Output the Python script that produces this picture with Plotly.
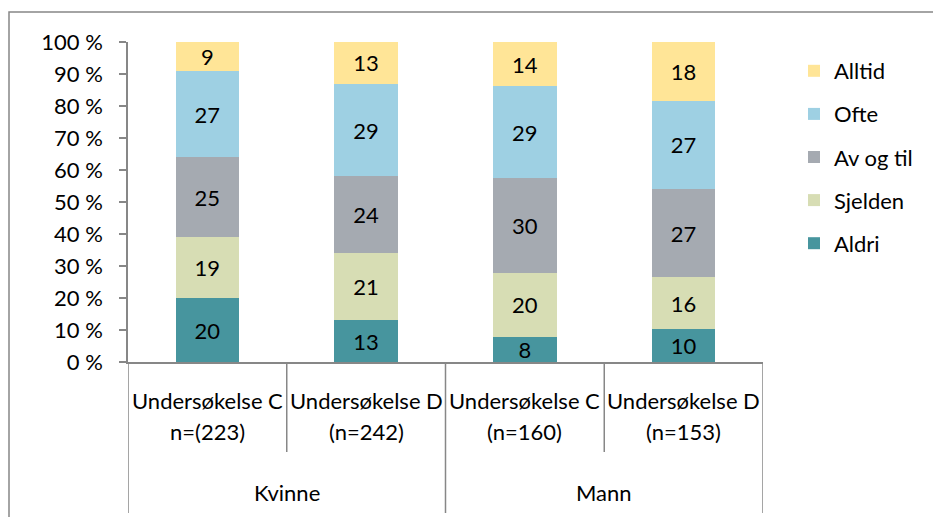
import plotly.graph_objects as go

# ---- data ----
categories = ["Undersøkelse C<br>n=(223)", "Undersøkelse D<br>(n=242)",
              "Undersøkelse C<br>(n=160)", "Undersøkelse D<br>(n=153)"]
groups = ["Kvinne", "Mann"]
series_names = ["Aldri", "Sjelden", "Av og til", "Ofte", "Alltid"]
aldri = [20, 13, 8, 10]
sjelden = [19, 21, 20, 16]
av_og_til = [25, 24, 30, 27]
ofte = [27, 29, 29, 27]
alltid = [9, 13, 14, 18]
y_ticks = [0, 10, 20, 30, 40, 50, 60, 70, 80, 90, 100]

colors = ["#47959E", "#D7DDB4", "#A5AAB1", "#9ED0E3", "#FFE597"]
series_values = [aldri, sjelden, av_og_til, ofte, alltid]

FONT = "Lato"
FS = 22
xpos = list(range(len(categories)))

fig = go.Figure()
for k, (name, vals, col) in enumerate(zip(series_names, series_values, colors)):
    fig.add_trace(go.Bar(
        x=xpos, y=vals, name=name, legendgroup=name,
        legendrank=len(series_names) - k,
        marker=dict(color=col, line=dict(width=0)),
        width=0.4,
        text=[str(v) for v in vals],
        textposition="inside", insidetextanchor="middle",
        textangle=0, constraintext="none",
        textfont=dict(family=FONT, size=FS, color="black"),
        hoverinfo="skip",
    ))

L, R, T, B = 128, 170, 42, 155
W, H = 933, 517
pw, ph = W - L - R, H - T - B

def py(pix):
    return (H - B - pix) / ph

def px(pix):
    return (pix - L) / pw

shapes = []
# outer frame
shapes.append(dict(type="rect", xref="paper", yref="paper",
                   x0=px(9), x1=px(960), y0=py(12), y1=py(540),
                   line=dict(color="#878787", width=1.5), fillcolor="rgba(0,0,0,0)", layer="below"))
# dividers
for xv, depth in [(-0.5, 513), (0.5, 452), (1.5, 513), (2.5, 452), (3.5, 513)]:
    shapes.append(dict(type="line", xref="x", yref="paper", x0=xv, x1=xv,
                       y0=0, y1=py(depth), line=dict(color="#878787", width=1.5)))

annotations = []
for i, c in enumerate(categories):
    l1, l2 = c.split("<br>")
    annotations.append(dict(x=i, y=py(400), xref="x", yref="paper", text=l1, showarrow=False,
                            font=dict(family=FONT, size=FS, color="black"), yanchor="middle"))
    annotations.append(dict(x=i, y=py(431), xref="x", yref="paper", text=l2, showarrow=False,
                            font=dict(family=FONT, size=FS, color="black"), yanchor="middle"))
for gi, g in enumerate(groups):
    annotations.append(dict(x=0.5 + 2 * gi, y=py(492), xref="x", yref="paper", text=g, showarrow=False,
                            font=dict(family=FONT, size=FS, color="black"), yanchor="middle"))

fig.update_layout(
    width=W, height=H,
    margin=dict(l=L, r=R, t=T, b=B, pad=0),
    barmode="stack", barnorm="percent",
    plot_bgcolor="white", paper_bgcolor="white",
    font=dict(family=FONT, size=FS, color="black"),
    showlegend=True,
    legend=dict(x=px(794), y=py(50), xanchor="left", yanchor="top",
                traceorder="grouped", tracegroupgap=11.5,
                font=dict(family=FONT, size=FS, color="black"),
                bgcolor="rgba(0,0,0,0)"),
    xaxis=dict(range=[-0.5, 3.5], showticklabels=False, ticks="",
               showline=True, linecolor="#878787", linewidth=1.5,
               showgrid=False, zeroline=False, fixedrange=True),
    yaxis=dict(range=[0, 100], tickvals=y_ticks, ticktext=[f"{v} %" for v in y_ticks],
               ticks="outside", ticklen=7, tickcolor="#878787", tickwidth=1.5,
               showline=True, linecolor="#878787", linewidth=1.5,
               showgrid=False, zeroline=False, ticklabelstandoff=12,
               tickfont=dict(family=FONT, size=FS, color="black")),
    shapes=shapes, annotations=annotations,
)

fig.write_html("out.html", config={"displayModeBar": False},
               post_script="document.body.style.margin='0';document.body.style.padding='0';")
